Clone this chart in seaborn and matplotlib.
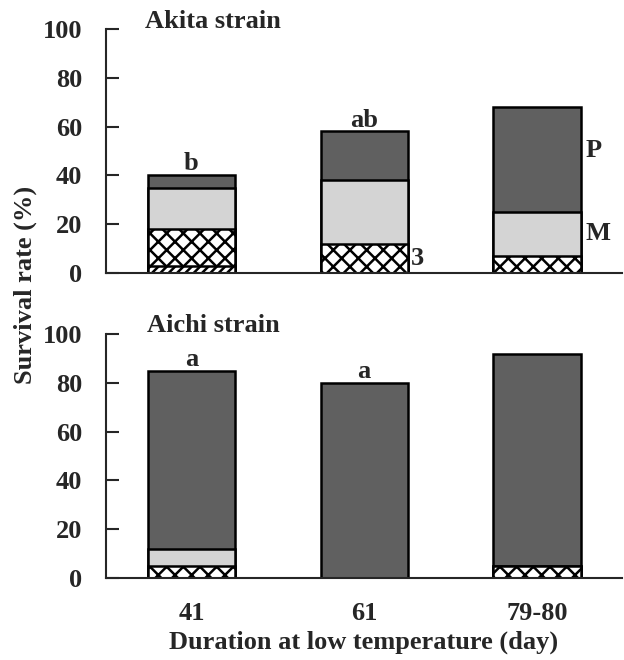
import matplotlib
matplotlib.use("Agg")
import matplotlib.pyplot as plt
import numpy as np
import pandas as pd
import seaborn as sns

# Duration groups on the x axis
days = ["41", "61", "79-80"]

# Survival (%) split by developmental stage, bottom to top of each bar
akita_early = [3, 0, 0]        # thin band at the base
akita_third = [15, 12, 7]      # "3"
akita_m = [17, 26, 18]         # "M"
akita_p = [5, 20, 43]          # "P"
akita_sig = ["b", "ab", ""]

aichi_early = [0, 0, 0]
aichi_third = [5, 0, 5]
aichi_m = [7, 0, 0]
aichi_p = [73, 80, 87]
aichi_sig = ["a", "a", ""]

sns.set_theme(style="ticks")
plt.rcParams["font.family"] = ["Liberation Serif", "DejaVu Serif"]
plt.rcParams["font.weight"] = "bold"
plt.rcParams["hatch.linewidth"] = 1.8

FS = 19
BAR_W = 0.506

# stage styles: (face colour, hatch)
styles = [
    ("white", "////"),    # early
    ("white", "xx"),      # 3
    ("#d4d4d4", None),    # M
    ("#606060", None),    # P
]

fig = plt.figure(figsize=(6.24, 6.60), dpi=100)
ax_top = fig.add_axes([0.170, 0.5864, 0.826, 0.3697])
ax_bot = fig.add_axes([0.170, 0.1242, 0.826, 0.3697])


def draw_panel(ax, segments, sig):
    cum = np.cumsum(np.array(segments), axis=0)
    # tallest cumulative layer first, lower stages drawn over it
    for level in range(len(segments) - 1, -1, -1):
        face, hatch = styles[level]
        df = pd.DataFrame({"day": days, "value": cum[level]})
        kw = dict(hatch=hatch) if hatch else {}
        sns.barplot(data=df, x="day", y="value", order=days, ax=ax,
                    color=face, saturation=1, width=BAR_W,
                    edgecolor="black", linewidth=1.8, errorbar=None, **kw)
    totals = cum[-1]
    for i, (t, s) in enumerate(zip(totals, sig)):
        if s:
            ax.text(i, t + 2, s, ha="center", va="baseline",
                    fontsize=FS, fontweight="bold")
    ax.set_ylim(0, 100)
    ax.set_xlim(-0.494, 2.489)
    ax.set_yticks(range(0, 101, 20))
    ax.tick_params(axis="y", direction="in", length=9.5, width=1.5,
                   pad=17, labelsize=FS)
    ax.tick_params(axis="x", length=0, pad=17, labelsize=FS)
    for lab in ax.get_yticklabels() + ax.get_xticklabels():
        lab.set_fontweight("bold")
    sns.despine(ax=ax)
    ax.spines["left"].set_linewidth(1.5)
    ax.spines["bottom"].set_linewidth(1.5)
    ax.set_xlabel("")
    ax.set_ylabel("")


draw_panel(ax_top, [akita_early, akita_third, akita_m, akita_p], akita_sig)
draw_panel(ax_bot, [aichi_early, aichi_third, aichi_m, aichi_p], aichi_sig)

ax_top.set_xticklabels([])

ax_top.text(-0.27, 100.5, "Akita strain", ha="left", va="baseline",
            fontsize=FS, fontweight="bold")
ax_bot.text(-0.26, 100.8, "Aichi strain", ha="left", va="baseline",
            fontsize=FS, fontweight="bold")

# stage labels beside the bars
ax_top.text(2.28, 50, "P", ha="left", va="center", fontsize=FS, fontweight="bold")
ax_top.text(2.28, 16, "M", ha="left", va="center", fontsize=FS, fontweight="bold")
ax_top.text(1.27, 6, "3", ha="left", va="center", fontsize=FS, fontweight="bold")

ax_bot.set_xlabel("Duration at low temperature (day)", fontsize=FS,
                  fontweight="bold", labelpad=4)
fig.text(0.04, 0.568, "Survival rate (%)", rotation=90, ha="center",
         va="center", fontsize=FS, fontweight="bold")

fig.savefig("out.png", dpi=100)
